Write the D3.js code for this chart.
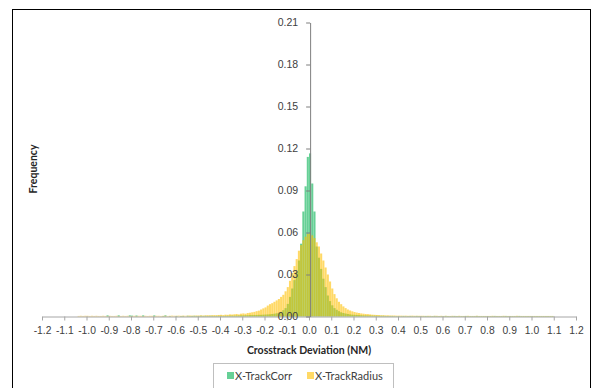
<!DOCTYPE html>
<html>
<head>
<meta charset="utf-8">
<script src="https://cdn.jsdelivr.net/npm/d3@7"></script>
<style>
  html, body { margin: 0; padding: 0; background: #fff; }
  svg { display: block; font-family: Lato, "Liberation Sans", sans-serif; }
</style>
</head>
<body>
<svg id="chart" width="596" height="388"></svg>
<script>
// ---- data ----
const seriesNames = ["X-TrackCorr", "X-TrackRadius"];
const binStart = -1.2;   // left edge of first bin (NM)
const binWidth = 0.01;   // bin width (NM)
const xTicks = [-1.2,-1.1,-1.0,-0.9,-0.8,-0.7,-0.6,-0.5,-0.4,-0.3,-0.2,-0.1,0.0,0.1,0.2,0.3,0.4,0.5,0.6,0.7,0.8,0.9,1.0,1.1,1.2];
const yTicks = [0.00,0.03,0.06,0.09,0.12,0.15,0.18,0.21];

// X-TrackCorr frequencies, bins from -1.20 to 1.19 (rows of 20 bins = 0.2 NM)
const trackCorr = [
  0,0,0,0,0,0,0,0,0,0, 0,0,0,0,0,0,0,0,0,0,
  0,0,0,0,0,0,0,0,0,0.0008, 0,0,0,0,0.0008,0,0,0,0,0.0008,
  0.0006,0,0.0007,0,0,0.0008,0,0,0,0, 0.0008,0,0,0,0.0003,0.0008,0,0.0003,0,0,
  0.0004,0,0.0003,0.0004,0,0.0005,0.0003,0.0004,0.0005,0.0004, 0.0004,0.0005,0.0004,0.0005,0.0004,0.0005,0.0005,0.0004,0.0005,0.0005,
  0.0005,0.0004,0.0005,0.0005,0.0006,0.0006,0.0006,0.0007,0.0007,0.0008, 0.0008,0.0009,0.0009,0.0010,0.0010,0.0011,0.0011,0.0012,0.0012,0.0013,
  0.0014,0.0015,0.0016,0.0018,0.0020,0.0023,0.0027,0.0033,0.0045,0.0060, 0.0090,0.0140,0.0200,0.0260,0.0320,0.0400,0.0520,0.0750,0.0930,0.1140,
  0.1165,0.0950,0.0750,0.0500,0.0420,0.0340,0.0270,0.0210,0.0150,0.0110, 0.0080,0.0060,0.0048,0.0038,0.0030,0.0025,0.0021,0.0018,0.0015,0.0013,
  0.0012,0.0011,0.0010,0.0009,0.0008,0.0008,0.0007,0.0007,0.0006,0.0006, 0.0006,0.0005,0.0005,0.0005,0.0004,0.0004,0.0004,0.0004,0.0003,0.0003,
  0.0003,0.0003,0.0004,0.0003,0.0003,0.0004,0.0003,0.0003,0.0004,0.0003, 0.0003,0.0003,0.0004,0.0003,0.0003,0.0003,0.0004,0.0003,0.0003,0.0003,
  0.0003,0.0004,0.0003,0.0003,0.0003,0.0004,0.0003,0.0003,0.0003,0.0003, 0.0004,0.0003,0.0003,0.0003,0.0003,0.0004,0.0003,0.0003,0.0003,0.0003,
  0.0003,0.0003,0.0003,0.0004,0.0003,0.0003,0.0003,0.0003,0.0004,0.0003, 0.0003,0.0003,0.0003,0.0003,0.0004,0.0003,0.0003,0.0003,0.0003,0.0003,
  0.0003,0.0003,0.0003,0.0003,0.0003,0.0003,0.0003,0.0003,0.0003,0.0003, 0,0,0,0,0,0,0,0,0,0
];

// X-TrackRadius frequencies, same bins
const trackRadius = [
  0,0,0,0,0,0,0,0,0,0, 0,0,0,0,0,0,0.0004,0.0005,0.0004,0.0005,
  0.0005,0.0004,0.0005,0.0004,0.0005,0.0004,0.0004,0.0005,0.0004,0.0004, 0.0005,0.0004,0.0004,0.0005,0.0004,0.0004,0.0005,0.0004,0.0005,0.0004,
  0.0004,0.0005,0.0004,0.0005,0.0005,0.0004,0.0005,0.0004,0.0005,0.0005, 0.0004,0.0005,0.0005,0.0004,0.0005,0.0005,0.0004,0.0005,0.0006,0.0005,
  0.0005,0.0006,0.0005,0.0006,0.0005,0.0006,0.0007,0.0006,0.0006,0.0007, 0.0007,0.0008,0.0007,0.0008,0.0009,0.0008,0.0009,0.0010,0.0009,0.0011,
  0.0012,0.0010,0.0013,0.0012,0.0015,0.0014,0.0016,0.0018,0.0015,0.0020, 0.0022,0.0020,0.0025,0.0027,0.0030,0.0033,0.0038,0.0042,0.0050,0.0058,
  0.0065,0.0078,0.0088,0.0095,0.0105,0.0115,0.0125,0.0140,0.0155,0.0180, 0.0210,0.0255,0.0310,0.0360,0.0410,0.0470,0.0510,0.0545,0.0570,0.0590,
  0.0595,0.0580,0.0560,0.0530,0.0500,0.0450,0.0400,0.0350,0.0300,0.0250, 0.0200,0.0160,0.0130,0.0105,0.0088,0.0072,0.0060,0.0050,0.0043,0.0037,
  0.0032,0.0028,0.0025,0.0022,0.0020,0.0018,0.0017,0.0015,0.0013,0.0012, 0.0011,0.0010,0.0009,0.0009,0.0008,0.0008,0.0007,0.0007,0.0007,0.0006,
  0.0006,0.0006,0.0005,0.0006,0.0005,0.0005,0.0006,0.0005,0.0005,0.0005, 0.0005,0.0005,0.0004,0.0005,0.0005,0.0004,0.0005,0.0005,0.0004,0.0005,
  0.0004,0.0005,0.0004,0.0004,0.0005,0.0004,0.0004,0.0005,0.0004,0.0004, 0.0004,0.0005,0.0004,0.0004,0.0004,0.0005,0.0004,0.0004,0.0004,0.0004,
  0.0004,0.0004,0.0005,0.0004,0.0004,0.0004,0.0004,0.0005,0.0004,0.0004, 0.0004,0.0004,0.0004,0.0005,0.0004,0.0004,0.0004,0.0004,0.0004,0.0004,
  0.0004,0.0004,0.0004,0.0004,0.0004,0.0004,0.0004,0.0004,0.0004,0.0004, 0,0,0,0,0,0,0,0,0,0
];

// ---- drawing ----
const svg = d3.select("#chart");
const colors = ["#00b050", "#ffc000"];

// outer chart frame
svg.append("rect")
  .attr("x", 12.5).attr("y", 9.5).attr("width", 578).attr("height", 400)
  .attr("fill", "#fff").attr("stroke", "#000").attr("stroke-width", 1);

const x = d3.scaleLinear().domain([-1.2, 1.2]).range([42, 576]);
const y = d3.scaleLinear().domain([0, 0.21]).range([316.5, 22.5]);

const bins = trackCorr.map((_, i) => binStart + i * binWidth);
const bw = x(binWidth) - x(0);

[trackCorr, trackRadius].forEach((series, s) => {
  svg.append("g")
    .selectAll("rect")
    .data(series.map((v, i) => ({ x0: bins[i], v })).filter(d => d.v > 0))
    .join("rect")
    .attr("x", d => x(d.x0))
    .attr("width", bw - 0.15)
    .attr("y", d => y(d.v))
    .attr("height", d => y(0) - y(d.v))
    .attr("fill", colors[s])
    .attr("fill-opacity", 0.6);
});

// x axis
const xAxis = svg.append("g")
  .attr("transform", `translate(0,${y(0)})`)
  .call(d3.axisBottom(x).tickValues(xTicks).tickSize(4).tickSizeOuter(0)
    .tickFormat(d3.format(".1f")));
xAxis.select(".domain").attr("stroke", "#a6a6a6");
xAxis.selectAll(".tick line").attr("stroke", "#a6a6a6");
xAxis.selectAll(".tick text")
  .attr("fill", "#404040").attr("font-size", "10.3px").attr("dy", "1.05em")
  .text(d => d3.format(".1f")(d).replace("−", "-"));

// y axis, crossing at the centre of the 0.00 bin
const yAxis = svg.append("g")
  .attr("transform", `translate(${x(binWidth / 2)},0)`)
  .call(d3.axisLeft(y).tickValues(yTicks).tickSize(4).tickSizeOuter(0)
    .tickFormat(d3.format(".2f")));
yAxis.select(".domain").attr("stroke", "#7f7f7f");
yAxis.selectAll(".tick line").attr("stroke", "#7f7f7f");
yAxis.selectAll(".tick text")
  .attr("fill", "#404040").attr("font-size", "10.5px").attr("x", -12);

// axis titles
svg.append("text")
  .attr("x", 309).attr("y", 354)
  .attr("text-anchor", "middle")
  .attr("font-weight", "bold").attr("font-size", "10.5px").attr("fill", "#262626")
  .text("Crosstrack Deviation (NM)");

svg.append("text")
  .attr("transform", "translate(37,169) rotate(-90)")
  .attr("text-anchor", "middle")
  .attr("font-weight", "bold").attr("font-size", "10.5px").attr("fill", "#262626")
  .text("Frequency");

// legend
const legend = svg.append("g");
legend.append("rect")
  .attr("x", 213.5).attr("y", 363.5).attr("width", 180).attr("height", 40)
  .attr("fill", "#fff").attr("stroke", "#bfbfbf");
const legendItems = [{ name: seriesNames[0], sx: 227, tx: 235 }, { name: seriesNames[1], sx: 307, tx: 315 }];
legendItems.forEach((d, i) => {
  legend.append("rect")
    .attr("x", d.sx).attr("y", 372).attr("width", 7).attr("height", 7)
    .attr("fill", colors[i]).attr("fill-opacity", 0.6);
  legend.append("text")
    .attr("x", d.tx).attr("y", 379.5)
    .attr("font-size", "11px").attr("fill", "#404040")
    .text(d.name);
});
</script>
</body>
</html>
